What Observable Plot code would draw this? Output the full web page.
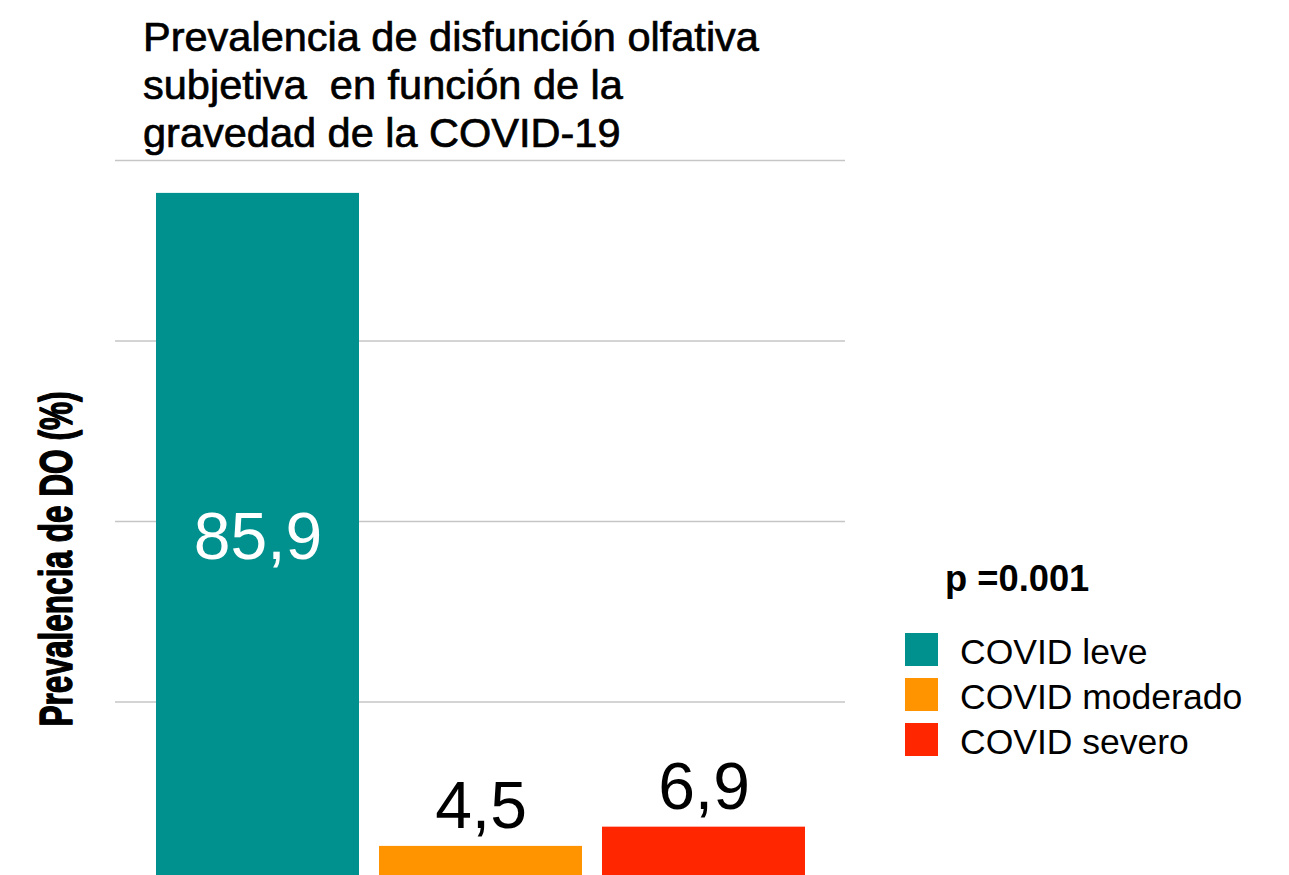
<!DOCTYPE html>
<html><head><meta charset="utf-8">
<script src="https://cdn.jsdelivr.net/npm/d3@7"></script>
<script src="https://cdn.jsdelivr.net/npm/@observablehq/plot@0.6"></script>
<style>
html,body{margin:0;padding:0;background:#fff;}
#wrap{position:relative;width:1289px;height:875px;overflow:hidden;}
#wrap > svg{position:absolute;left:0;top:0;}
</style></head><body><div id="wrap"></div>
<script>
const categories = ["COVID leve", "COVID moderado", "COVID severo"];
const values = [85.9, 4.5, 6.9];
const valueLabels = ["85,9", "4,5", "6,9"];
const colors = ["#00918E", "#FF9300", "#FF2600"];
const gridTicks = [0, 22.5, 45, 67.5, 90];
const titleLines = ["Prevalencia de disfunción olfativa", "subjetiva  en función de la", "gravedad de la COVID-19"];
const yLabel = "Prevalencia de DO (%)";
const pValue = "p =0.001";

const FONT = "'Liberation Sans', Arial, Helvetica, sans-serif";
const data = categories.map((c, i) => ({category: c, value: values[i], label: valueLabels[i]}));
const inside = d => d.value > 50;

const chart = Plot.plot({
  width: 1289, height: 882,
  marginTop: 160, marginBottom: 0, marginLeft: 115, marginRight: 444,
  style: {background: "transparent", fontFamily: FONT},
  x: {domain: categories, paddingInner: 0.09, paddingOuter: 0.18, axis: null},
  y: {domain: [0, 90], axis: null},
  color: {domain: categories, range: colors},
  marks: [
    Plot.ruleY(gridTicks, {stroke: "#c6c6c6", strokeWidth: 1.5}),
    Plot.barY(data, {x: "category", y: "value", fill: "category"}),
    Plot.text(data.filter(inside), {x: "category", y: d => d.value / 2, text: "label", fill: "white", fontSize: 66, lineAnchor: "middle"}),
    Plot.text(data.filter(d => !inside(d)), {x: "category", y: "value", text: "label", fill: "black", fontSize: 66, lineAnchor: "bottom", dy: -18}),
    Plot.text([yLabel], {frameAnchor: "left", text: d => d, rotate: -90, dx: -44, dy: 37.5, fontSize: 46, fontWeight: "bold", lineAnchor: "bottom", textAnchor: "middle", fill: "black", stroke: "black", strokeWidth: 1.4})
  ]
});
chart.querySelectorAll("text").forEach(t => {
  if (t.textContent === yLabel) {
    t.setAttribute("textLength", 335);
    t.setAttribute("lengthAdjust", "spacingAndGlyphs");
  }
});
const wrap = document.getElementById("wrap");
wrap.appendChild(chart);

// Title and legend overlay
const ov = d3.create("svg").attr("width", 1289).attr("height", 875).style("font-family", FONT).style("pointer-events", "none");
ov.selectAll("text.title").data(titleLines).join("text")
  .attr("class", "title")
  .attr("x", 143).attr("y", (d, i) => 51 + 48 * i)
  .attr("font-size", 41.5).attr("fill", "black").attr("stroke", "black").attr("stroke-width", 0.7)
  .style("white-space", "pre")
  .text(d => d);
ov.append("text").attr("x", 945).attr("y", 591).attr("font-size", 36.3).attr("font-weight", "bold").attr("fill", "black").text(pValue);
const rows = ov.selectAll("g.leg").data(categories).join("g").attr("class", "leg")
  .attr("transform", (d, i) => `translate(905,${633 + 45 * i})`);
rows.append("rect").attr("width", 33).attr("height", 33).attr("fill", (d, i) => colors[i]);
rows.append("text").attr("x", 55).attr("y", 31).attr("font-size", 35.5).attr("fill", "black").text(d => d);
wrap.appendChild(ov.node());
</script>
</body></html>
